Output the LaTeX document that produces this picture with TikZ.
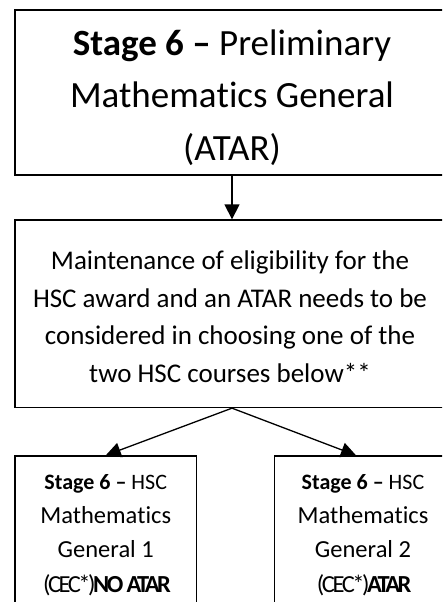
\documentclass[tikz,border=0pt]{standalone}
\usepackage{fontspec}
\setmainfont{Carlito}[Ligatures=NoCommon]
\usetikzlibrary{arrows.meta,calc}
\newcommand\topstrut{\rule{0pt}{1em}}
\newcommand\Mths{Mathema\kern0pt t\kern0pt ics}
\begin{document}
\begin{tikzpicture}[x=1pt,y=-1pt,
  boxnode/.style={draw=black,line width=1.3pt,rectangle,inner sep=0pt},
  txt/.style={align=center,inner sep=0pt,anchor=north,text=black},
  conn/.style={draw=black,line width=1.3pt,-{Triangle[length=15pt,width=15pt]}}]
\useasboundingbox (0,0) rectangle (442,602);
\clip (0,0) rectangle (442,602);
\fill[white] (0,0) rectangle (442,602);
% boxes
\node[boxnode,minimum width=434pt,minimum height=165pt] (top) at (232,92.5) {};
\node[boxnode,minimum width=434pt,minimum height=187.5pt] (mid) at (232,313.75) {};
\node[boxnode,minimum width=181.5pt,minimum height=184pt] (left) at (105.75,548) {};
\node[boxnode,minimum width=181.7pt,minimum height=184pt] (right) at (365.15,548) {};
% texts
\node[txt,font=\fontsize{37}{52.5}\selectfont] (toptxt) at (232,18)
  {\topstrut\textbf{Stage 6 –} Preliminary\\\Mths{} General\\(ATAR)};
\node[txt,font=\fontsize{27}{37.5}\selectfont] (midtxt) at (230,242.5)
  {\topstrut Maintenance of eligibility for the\\HSC award and an ATAR needs to be\\considered in choosing one of the\\two HSC courses below**};
\node[txt,font=\fontsize{24.5}{34.2}\selectfont] (lefttxt) at (105.75,464.8)
  {\rule{0pt}{24.5pt}{\fontsize{22}{34.2}\selectfont\textbf{Stage 6 –} HSC}\\\Mths\\General 1\\{\addfontfeature{LetterSpace=-10}(CEC*)\textbf{NO ATAR}}};
\node[txt,font=\fontsize{24.5}{34.2}\selectfont] (righttxt) at (363,464.8)
  {\rule{0pt}{24.5pt}{\fontsize{22}{34.2}\selectfont\textbf{Stage 6 –} HSC}\\\Mths\\General 2\\{\addfontfeature{LetterSpace=-10}(CEC*)\textbf{ATAR}}};
% connectors
\coordinate (rtip) at ($(right.north west)+(82.4pt,0)$);
\draw[conn] (top.south) -- (mid.north);
\draw[conn] (mid.south) -- (left.north);
\draw[conn] (mid.south) -- (rtip);
\end{tikzpicture}
\end{document}
